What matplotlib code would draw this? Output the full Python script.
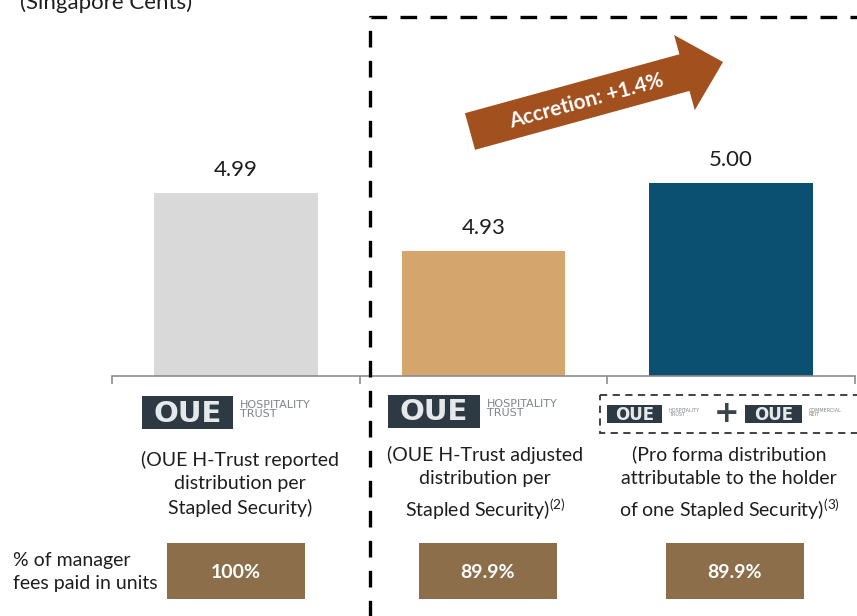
import matplotlib
matplotlib.use("Agg")
import matplotlib.pyplot as plt
from matplotlib.patches import Rectangle, FancyArrow
import numpy as np

# ---------------- data ----------------
categories = ["OUE H-Trust reported", "OUE H-Trust adjusted", "Pro forma"]
values = [4.99, 4.93, 5.00]
value_labels = ["4.99", "4.93", "5.00"]
bar_colors = ["#D9D9D9", "#D5A56E", "#0B4F71"]
descriptions = [
    "(OUE H-Trust reported\ndistribution per\nStapled Security)",
    "(OUE H-Trust adjusted\ndistribution per\nStapled Security)$^{\\mathregular{(2)}}$",
    "(Pro forma distribution\nattributable to the holder\nof one Stapled Security)$^{\\mathregular{(3)}}$",
]
fee_pcts = ["100%", "89.9%", "89.9%"]
unit_label = "(Singapore Cents)"
fee_label = "% of manager\nfees paid in units"
accretion_label = "Accretion: +1.4%"

FONT = ["Lato", "DejaVu Sans"]
plt.rcParams["font.family"] = FONT
TXT = "#1E1E1E"

W, H = 857, 616
fig = plt.figure(figsize=(W / 100, H / 100), dpi=100)

# ---------------- main bar axes ----------------
ax_l, ax_r, ax_b = 112, 855, 376
ax = fig.add_axes([ax_l / W, 1 - ax_b / H, (ax_r - ax_l) / W, ax_b / H])
x = np.arange(len(categories))
bars = ax.bar(x, values, width=0.66, color=bar_colors, zorder=2)
ax.set_xlim(-0.5, len(categories) - 0.5)
ax.set_ylim(4.8013, 5.1884)
for s in ["top", "right", "left"]:
    ax.spines[s].set_visible(False)
ax.spines["bottom"].set_color("#8C8C8C")
ax.spines["bottom"].set_linewidth(1.2)
ax.set_yticks([])
ax.set_xticks(np.arange(-0.5, len(categories), 1.0))
ax.set_xticklabels([])
ax.tick_params(axis="x", direction="out", length=6, width=1.2, color="#8C8C8C")
ax.patch.set_visible(False)
ax.bar_label(bars, labels=value_labels, padding=9, fontsize=16, color=TXT)

# ---------------- overlay (pixel coordinates) ----------------
ov = fig.add_axes([0, 0, 1, 1])
ov.set_xlim(0, W)
ov.set_ylim(H, 0)
ov.axis("off")
ov.patch.set_visible(False)

# unit label (cut at top)
ov.text(20, 9, unit_label, fontsize=16, color=TXT, ha="left", va="baseline")

# dashed frame
ov.plot([370, 370, W + 5], [H + 5, 17, 17], color="black", lw=2.4,
        linestyle=(0, (5, 4)), solid_capstyle="butt", dash_capstyle="butt")

# accretion arrow
sx, sy = 470, 131.5
tx, ty = 723, 62
arr = FancyArrow(sx, sy, tx - sx, ty - sy, width=38, head_width=78,
                 head_length=40, length_includes_head=True,
                 fc="#A3501F", ec="none")
ov.add_patch(arr)
ang = np.degrees(np.arctan2(sy - ty, tx - sx))
ov.text(586, 101, accretion_label, rotation=ang, rotation_mode="anchor",
        ha="center", va="center", color="white", fontsize=15, fontweight="bold")


def logo(x0, y0, w, h, fs, sub, sub_fs):
    ov.add_patch(Rectangle((x0, y0), w, h, fc="#2E3A43", ec="none"))
    ov.text(x0 + w / 2, y0 + h / 2 + 1, "OUE", ha="center", va="center",
            color="#E6E9EB", fontsize=fs, fontweight="bold",
            family=["DejaVu Sans"])
    ov.text(x0 + w + 7, y0 + h * 0.42, sub, ha="left", va="center",
            color="#7E8489", fontsize=sub_fs, linespacing=0.9,
            family=["Liberation Sans Narrow", "DejaVu Sans"])


logo(142, 396, 91, 33, 21, "HOSPITALITY\nTRUST", 8)
logo(388, 395, 92, 33, 21, "HOSPITALITY\nTRUST", 8)
# combined logo with dashed box
ov.add_patch(Rectangle((600, 395), 262, 38, fc="none", ec="#333333",
                       lw=1.3, linestyle=(0, (4, 3))))
logo(607, 405, 55, 18, 12, "HOSPITALITY\nTRUST", 3.5)
ov.text(727, 414, "+", ha="center", va="center", fontsize=22,
        fontweight="bold", color="#3A444B", family=["DejaVu Sans"])
logo(745, 405, 57, 18, 12, "COMMERCIAL\nREIT", 3.5)

# descriptions
desc_x = [240, 485, 729]
for cx, d in zip(desc_x, descriptions):
    ov.text(cx, 484, d, ha="center", va="center", fontsize=14,
            color=TXT, linespacing=1.45)

# fee boxes
box_x = [167, 419, 666]
for bx, p in zip(box_x, fee_pcts):
    ov.add_patch(Rectangle((bx, 543), 138, 56, fc="#8C6F4A", ec="none"))
    ov.text(bx + 69, 572, p, ha="center", va="center", color="white",
            fontsize=14, fontweight="bold")

ov.text(13, 572, fee_label, ha="left", va="center", fontsize=14,
        color=TXT, linespacing=1.45)

fig.savefig("out.png", dpi=100)
